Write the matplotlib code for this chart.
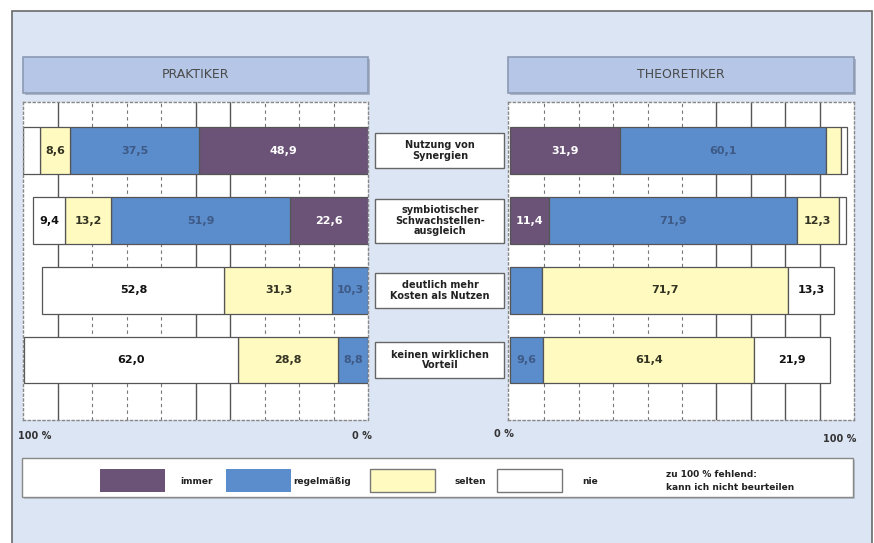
import matplotlib.pyplot as plt
from matplotlib.patches import Rectangle

# Antworten je Aussage, Anteile in Prozent
aussagen = ["Nutzung von\nSynergien",
            "symbiotischer\nSchwachstellen-\nausgleich",
            "deutlich mehr\nKosten als Nutzen",
            "keinen wirklichen\nVorteil"]
kategorien = ["immer", "regelmäßig", "selten", "nie"]

praktiker_immer = [48.9, 22.6, 0.0, 0.0]
praktiker_regelm = [37.5, 51.9, 10.3, 8.8]
praktiker_selten = [8.6, 13.2, 31.3, 28.8]
praktiker_nie = [5.0, 9.4, 52.8, 62.0]

theoretiker_immer = [31.9, 11.4, 0.0, 0.0]
theoretiker_regelm = [60.1, 71.9, 9.2, 9.6]
theoretiker_selten = [4.2, 12.3, 71.7, 61.4]
theoretiker_nie = [1.8, 2.2, 13.3, 21.9]

# Segmente ohne Beschriftung: (Gruppe, Kategorie, Zeile)
ohne_wert = {("P", 3, 0), ("T", 2, 0), ("T", 3, 0), ("T", 3, 1), ("T", 1, 2)}

farben = ["#6b5378", "#5b8ccc", "#fffac0", "#ffffff"]
textfarben = ["#ffffff", "#3e5a86", "#333322", "#111111"]
hintergrund = "#dce5f4"
titel_farbe = "#b5c6e6"

W, H = 874, 543
fam = ["Liberation Sans Narrow", "DejaVu Sans"]


def fx(px):
    return px / W


def fy(py):
    return 1 - py / H


fig = plt.figure(figsize=(W / 100, H / 100), dpi=100)
fig.patch.set_facecolor("white")

# Rahmen und Hintergrund
fig.add_artist(Rectangle((fx(12), fy(560)), (872 - 12) / W, (560 - 11) / H,
                         transform=fig.transFigure, facecolor=hintergrund,
                         edgecolor="#6a6a6a", linewidth=1.2, zorder=0))


def titel_box(x0, x1, text):
    fig.add_artist(Rectangle((fx(x0 + 2), fy(95)), (x1 - x0) / W, 36 / H,
                             transform=fig.transFigure, facecolor="#a9b4c8",
                             edgecolor="none", zorder=1))
    fig.add_artist(Rectangle((fx(x0), fy(93)), (x1 - x0) / W, 36 / H,
                             transform=fig.transFigure, facecolor=titel_farbe,
                             edgecolor="#8c9ab3", linewidth=1.2, zorder=2))
    fig.text(fx((x0 + x1) / 2), fy(75), text, ha="center", va="center",
             fontsize=9, color="#4a4a4a", family=["DejaVu Sans"])


titel_box(23, 368, "PRAKTIKER")
titel_box(508, 854, "THEORETIKER")


def panel(x0, x1, serien, gruppe, umgekehrt, solide):
    ax = fig.add_axes([fx(x0), fy(420), (x1 - x0) / W, (420 - 102) / H])
    ax.set_facecolor("white")
    ax.set_ylim(3.86, -0.7)
    if umgekehrt:
        ax.set_xlim(100, 0)
    else:
        ax.set_xlim(-0.6, 100)
    for s in ax.spines.values():
        s.set_linestyle((0, (1.5, 2)))
        s.set_color("#888888")
        s.set_linewidth(1.0)
    ax.set_xticks([])
    ax.set_yticks([])
    # Gitterlinien alle 10 %
    for i in range(1, 10):
        pos = 100 - i * 10 if umgekehrt else i * 10
        if i in solide:
            ax.axvline(pos, color="#555555", lw=1.0, zorder=0)
        else:
            ax.axvline(pos, color="#777777", lw=0.8, ls=(0, (3, 3)), zorder=0)

    y = list(range(len(aussagen)))
    links = [0.0] * len(y)
    for k, werte in enumerate(serien):
        bars = ax.barh(y, werte, left=links, height=0.67, color=farben[k],
                       edgecolor="#555555", linewidth=0.9, zorder=2)
        for r, (b, v) in enumerate(zip(bars, werte)):
            if v <= 0 or (gruppe, k, r) in ohne_wert:
                continue
            ax.text(b.get_x() + b.get_width() / 2, r,
                    f"{v:.1f}".replace(".", ","), ha="center", va="center",
                    fontsize=8, fontweight="bold", color=textfarben[k],
                    family=fam, zorder=3)
        links = [l + v for l, v in zip(links, werte)]
    return ax


ax_p = panel(23, 368, [praktiker_immer, praktiker_regelm, praktiker_selten,
                       praktiker_nie], "P", True, {1, 5, 6})
ax_t = panel(508, 854, [theoretiker_immer, theoretiker_regelm,
                        theoretiker_selten, theoretiker_nie], "T", False,
             {6, 7, 8, 9})

# Aussagen in der Mitte
hoehen = [35, 44, 35, 36]
for r, (text, h) in enumerate(zip(aussagen, hoehen)):
    yc = ax_p.transData.transform((50, r))[1] / fig.dpi / fig.get_figheight()
    fig.add_artist(Rectangle((fx(375), yc - h / 2 / H), 129 / W, h / H,
                             transform=fig.transFigure, facecolor="white",
                             edgecolor="#666666", linewidth=1.0, zorder=2))
    fig.text(fx(440), yc, text, ha="center", va="center", fontsize=7,
             fontweight="bold", color="#222222", family=fam,
             linespacing=1.1, zorder=3)

# Achsenbeschriftung
achse = dict(fontsize=7, fontweight="bold", color="#333333", family=fam,
             va="center")
fig.text(fx(35), fy(436), "100 %", ha="center", **achse)
fig.text(fx(362), fy(436), "0 %", ha="center", **achse)
fig.text(fx(504), fy(434), "0 %", ha="center", **achse)
fig.text(fx(840), fy(439), "100 %", ha="center", **achse)

# Legende
fig.add_artist(Rectangle((fx(24), fy(499)), (853 - 22) / W, 39 / H,
                         transform=fig.transFigure, facecolor="#b9c2d2",
                         edgecolor="none", zorder=1))
fig.add_artist(Rectangle((fx(22), fy(497)), (853 - 22) / W, 39 / H,
                         transform=fig.transFigure, facecolor="white",
                         edgecolor="#888888", linewidth=1.0, zorder=2))
swatch_x = [100, 226, 370, 497]
text_pos = [(180, "left"), (293, "left"), (470, "center"), (590, "center")]
for k, name in enumerate(kategorien):
    fig.add_artist(Rectangle((fx(swatch_x[k]), fy(492)), 65 / W, 23 / H,
                             transform=fig.transFigure, facecolor=farben[k],
                             edgecolor="#777777" if k > 1 else "none",
                             linewidth=1.0, zorder=3))
    tx, ha = text_pos[k]
    fig.text(fx(tx), fy(481), name, ha=ha, va="center", fontsize=6.5,
             fontweight="bold", color="#222222", family=fam, zorder=4)
fig.text(fx(666), fy(481), "zu 100 % fehlend:\nkann ich nicht beurteilen",
         ha="left", va="center", fontsize=6.5, fontweight="bold",
         color="#222222", family=fam, linespacing=1.5, zorder=4)

fig.savefig("out.png", dpi=100, facecolor=fig.get_facecolor())
